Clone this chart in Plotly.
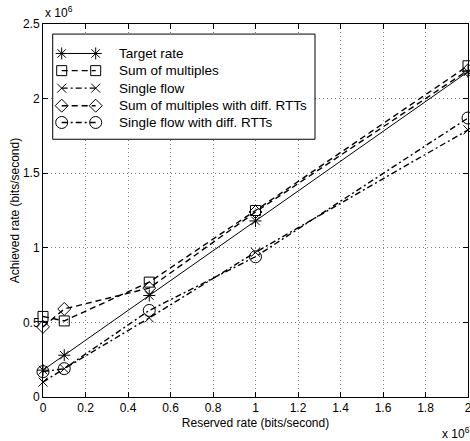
import plotly.graph_objects as go

# Reserved and achieved rates, in units of 10^6 bits/second
reserved = [0.0, 0.1, 0.5, 1.0, 2.0]
target_rate = [0.18, 0.28, 0.68, 1.18, 2.18]
sum_multiples = [0.54, 0.51, 0.77, 1.25, 2.22]
single_flow = [0.10, 0.19, 0.53, 0.97, 1.79]
sum_multiples_rtt = [0.47, 0.59, 0.73, 1.24, 2.19]
single_flow_rtt = [0.17, 0.19, 0.58, 0.94, 1.87]

series_names = [
    "Target rate",
    "Sum of multiples",
    "Single flow",
    "Sum of multiples with diff. RTTs",
    "Single flow with diff. RTTs",
]
series_values = [target_rate, sum_multiples, single_flow, sum_multiples_rtt, single_flow_rtt]

x_ticks = [0, 0.2, 0.4, 0.6, 0.8, 1, 1.2, 1.4, 1.6, 1.8, 2]
x_tick_text = ["0", "0.2", "0.4", "0.6", "0.8", "1", "1.2", "1.4", "1.6", "1.8", "2"]
y_ticks = [0, 0.5, 1, 1.5, 2, 2.5]
y_tick_text = ["0", "0.5", "1", "1.5", "2", "2.5"]
X_RANGE = [0, 2]
Y_RANGE = [0, 2.5]

FONT = "Liberation Sans, Arial, sans-serif"
DASH = "6px,4px"
DASHDOT = "6px,3px,2px,3px"

styles = [
    dict(dash="solid", symbol="asterisk-open", size=10, width=1),
    dict(dash=DASH, symbol="square-open", size=10, width=1.4),
    dict(dash=DASHDOT, symbol="x-thin-open", size=9, width=1.4),
    dict(dash=DASH, symbol="diamond-open", size=10, width=1.4),
    dict(dash=DASHDOT, symbol="circle-open", size=12, width=1.4),
]

fig = go.Figure()

for name, vals, st in zip(series_names, series_values, styles):
    fig.add_trace(go.Scatter(
        x=reserved, y=vals, name=name, mode="lines+markers",
        line=dict(color="black", width=st["width"], dash=st["dash"]),
        marker=dict(symbol=st["symbol"], size=st["size"], color="black",
                    line=dict(color="black", width=1)),
        cliponaxis=False, showlegend=False,
    ))

# Boxed key in the upper-left corner of the axes (fractions of the plot area)
box = dict(x0=0.0228, x1=0.64, y0=0.691, y1=0.973)
row_y = [0.921, 0.875, 0.828, 0.781, 0.736]
sample_x = [0.044, 0.124]
text_x = 0.174

def to_x(f):
    return X_RANGE[0] + f * (X_RANGE[1] - X_RANGE[0])

def to_y(f):
    return Y_RANGE[0] + f * (Y_RANGE[1] - Y_RANGE[0])

fig.add_shape(type="rect", xref="x", yref="y",
              x0=to_x(box["x0"]), x1=to_x(box["x1"]),
              y0=to_y(box["y0"]), y1=to_y(box["y1"]),
              fillcolor="white", line=dict(color="black", width=1), layer="between")

for name, ry, st in zip(series_names, row_y, styles):
    fig.add_trace(go.Scatter(
        x=sample_x, y=[ry, ry], xaxis="x2", yaxis="y2", mode="lines+markers",
        line=dict(color="black", width=st["width"], dash=st["dash"]),
        marker=dict(symbol=st["symbol"], size=st["size"], color="black",
                    line=dict(color="black", width=1)),
        cliponaxis=False, showlegend=False, hoverinfo="skip",
    ))
    fig.add_annotation(text=name, xref="x domain", yref="y domain",
                       x=text_x, y=ry, xanchor="left", yanchor="middle",
                       showarrow=False, font=dict(family=FONT, size=13.5, color="black"))

axis_common = dict(
    showline=True, linecolor="black", linewidth=1, mirror="ticks",
    ticks="inside", ticklen=5, tickcolor="black", tickwidth=1,
    showgrid=True, gridcolor="#7f7f7f", gridwidth=1, griddash="1px,3px",
    zeroline=False, ticklabeloverflow="allow",
    tickfont=dict(family=FONT, size=12, color="black"),
    title_font=dict(family=FONT, size=12, color="black"),
)

fig.update_layout(
    width=470, height=441,
    margin=dict(l=43, r=2, t=24, b=44, autoexpand=False),
    paper_bgcolor="white", plot_bgcolor="white",
    showlegend=False,
    xaxis=dict(range=X_RANGE, tickvals=x_ticks, ticktext=x_tick_text,
               title=dict(text="Reserved rate (bits/second)", standoff=4), **axis_common),
    yaxis=dict(range=Y_RANGE, tickvals=y_ticks, ticktext=y_tick_text,
               title=dict(text="Achieved rate (bits/second)", standoff=0), **axis_common),
    xaxis2=dict(overlaying="x", range=[0, 1], visible=False, anchor="y2"),
    yaxis2=dict(overlaying="y", range=[0, 1], visible=False, anchor="x2"),
)

# Exponent labels for both axes
fig.add_annotation(text="x 10<sup>6</sup>", xref="paper", yref="paper", x=0, y=1,
                   xanchor="left", yanchor="bottom", yshift=2, showarrow=False,
                   font=dict(family=FONT, size=12, color="black"))
fig.add_annotation(text="x 10<sup>6</sup>", xref="paper", yref="paper", x=1, y=0,
                   xanchor="right", yanchor="top", xshift=4, yshift=-26, showarrow=False,
                   font=dict(family=FONT, size=12, color="black"))

fig.write_html("out.html")
